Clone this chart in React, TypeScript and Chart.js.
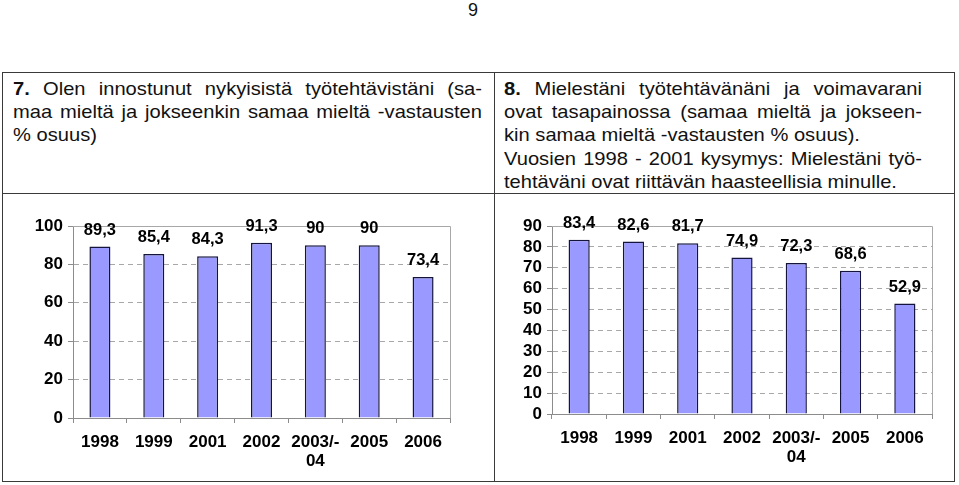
import React, { useEffect, useRef } from 'react';
import { Chart, registerables } from 'chart.js';

Chart.register(...registerables);

// ---- data ----
const categories: (string | string[])[] = ['1998', '1999', '2001', '2002', ['2003/-', '04'], '2005', '2006'];
const innostusValues = [89.3, 85.4, 84.3, 91.3, 90, 90, 73.4];
const tasapainoValues = [83.4, 82.6, 81.7, 74.9, 72.3, 68.6, 52.9];
const leftAxisMax = 100;
const leftAxisStep = 20;
const rightAxisMax = 90;
const rightAxisStep = 10;
const pageNumber = '9';

const leftHeading: { bold?: string; text: string; justify: boolean }[] = [
  { bold: '7.', text: ' Olen innostunut nykyisistä työtehtävistäni (sa-', justify: true },
  { text: 'maa mieltä ja jokseenkin samaa mieltä -vastausten', justify: true },
  { text: '% osuus)', justify: false },
];
const rightHeading: { bold?: string; text: string; justify: boolean }[] = [
  { bold: '8.', text: ' Mielestäni työtehtävänäni ja voimavarani', justify: true },
  { text: 'ovat tasapainossa (samaa mieltä ja jokseen-', justify: true },
  { text: 'kin samaa mieltä -vastausten % osuus).', justify: false },
  { text: 'Vuosien 1998 - 2001 kysymys: Mielestäni työ-', justify: true },
  { text: 'tehtäväni ovat riittävän haasteellisia minulle.', justify: false },
];

const FONT = '"Liberation Sans", Arial, Helvetica, sans-serif';
const BAR_FILL = '#9999FF';
const BAR_EDGE = '#14143c';
const GRID = '#a8a8a8';
const AXIS = '#8c8c8c';

const fmt = (v: number) => String(v).replace('.', ',');

const decorPlugin = {
  id: 'decor',
  beforeDatasetsDraw(chart: any) {
    const { ctx, chartArea } = chart;
    const { left, top, right, bottom } = chartArea;
    ctx.save();
    ctx.strokeStyle = GRID;
    ctx.lineWidth = 1;
    ctx.beginPath();
    ctx.moveTo(left, Math.round(top) + 0.5);
    ctx.lineTo(Math.round(right) + 0.5, Math.round(top) + 0.5);
    ctx.lineTo(Math.round(right) + 0.5, bottom);
    ctx.stroke();
    ctx.restore();
  },
  afterDatasetsDraw(chart: any) {
    const { ctx } = chart;
    const meta = chart.getDatasetMeta(0);
    const data = chart.data.datasets[0].data as number[];
    ctx.save();
    ctx.fillStyle = '#000';
    ctx.font = `bold 16.5px ${FONT}`;
    ctx.textAlign = 'center';
    ctx.textBaseline = 'middle';
    meta.data.forEach((el: any, i: number) => {
      ctx.fillText(fmt(data[i]), el.x, el.y - 16.5);
    });
    ctx.restore();
  },
};

type BarProps = {
  values: number[];
  max: number;
  step: number;
  width: number;
  height: number;
  yWidth: number;
  xHeight: number;
  padRight: number;
  padTop: number;
  xPad: number;
};

function BarChart(p: BarProps) {
  const ref = useRef<HTMLCanvasElement | null>(null);
  useEffect(() => {
    if (!ref.current) return;
    const tickFont = { family: FONT, weight: 'bold' as const, size: 17, lineHeight: 1.12 };
    const chart = new Chart(ref.current, {
      type: 'bar',
      data: {
        labels: categories as any,
        datasets: [
          {
            data: p.values,
            backgroundColor: BAR_FILL,
            borderColor: BAR_EDGE,
            borderWidth: 1.5,
            barPercentage: 0.39,
            categoryPercentage: 1,
          },
        ],
      },
      options: {
        responsive: false,
        animation: false,
        devicePixelRatio: 1,
        layout: { padding: { left: 0, right: p.padRight, top: p.padTop, bottom: 0 } },
        plugins: { legend: { display: false }, tooltip: { enabled: false } },
        scales: {
          x: {
            offset: true,
            grid: {
              display: true,
              offset: true,
              drawOnChartArea: false,
              drawTicks: true,
              tickLength: 5,
              color: AXIS,
              tickColor: AXIS,
            },
            border: { display: true, color: AXIS, width: 1 },
            ticks: { color: '#000', font: tickFont, padding: p.xPad, maxRotation: 0, autoSkip: false },
            afterFit: (s: any) => {
              s.height = p.xHeight;
            },
          },
          y: {
            min: 0,
            max: p.max,
            grid: {
              drawOnChartArea: true,
              drawTicks: true,
              tickLength: 5,
              color: (c: any) => (c.tick && c.tick.value === 0 ? 'rgba(0,0,0,0)' : GRID),
              tickColor: AXIS,
            },
            border: { display: true, color: AXIS, width: 1, dash: [5, 4] },
            ticks: { stepSize: p.step, color: '#000', font: tickFont, padding: 5, autoSkip: false },
            afterFit: (s: any) => {
              s.width = p.yWidth;
            },
          },
        },
      },
      plugins: [decorPlugin],
    });
    return () => chart.destroy();
  }, []);
  return <canvas ref={ref} width={p.width} height={p.height} style={{ display: 'block' }} />;
}

function Heading({ lines, left, top, width }: { lines: typeof leftHeading; left: number; top: number; width: number }) {
  const scale = 1.06;
  return (
    <div
      style={{
        position: 'absolute',
        left,
        top,
        width: width / scale,
        transform: `scaleX(${scale})`,
        transformOrigin: '0 0',
        fontFamily: FONT,
        fontSize: 19,
        lineHeight: '23.3px',
        color: '#111',
      }}
    >
      {lines.map((l, i) => (
        <div
          key={i}
          style={{
            height: 23.3,
            textAlign: l.justify ? 'justify' : 'left',
            textAlignLast: l.justify ? 'justify' : 'left',
          }}
        >
          {l.bold ? <b>{l.bold}</b> : null}
          {l.text}
        </div>
      ))}
    </div>
  );
}

export default function App() {
  const line = '#3a3a3a';
  return (
    <div style={{ position: 'relative', width: 959, height: 485, background: '#fff' }}>
      <div
        style={{
          position: 'fixed',
          left: 0,
          top: 0,
          width: 959,
          height: 485,
          background: '#fff',
          overflow: 'hidden',
        }}
      >
        <div
          style={{
            position: 'absolute',
            left: 463,
            top: 0,
            width: 20,
            textAlign: 'center',
            fontFamily: FONT,
            fontSize: 18,
            color: '#111',
          }}
        >
          {pageNumber}
        </div>
        {/* table frame */}
        <div style={{ position: 'absolute', left: 2, top: 72, width: 953, height: 410, border: `1px solid ${line}`, boxSizing: 'border-box' }} />
        <div style={{ position: 'absolute', left: 494, top: 72, width: 1, height: 410, background: line }} />
        <div style={{ position: 'absolute', left: 2, top: 193, width: 953, height: 1, background: line }} />

        <Heading lines={leftHeading} left={13} top={76.75} width={469} />
        <Heading lines={rightHeading} left={504} top={76.75} width={418} />

        <div style={{ position: 'absolute', left: 4, top: 195 }}>
          <BarChart
            values={innostusValues}
            max={leftAxisMax}
            step={leftAxisStep}
            width={488}
            height={285}
            yWidth={69}
            xHeight={62}
            padRight={42}
            padTop={31}
            xPad={10}
          />
        </div>
        <div style={{ position: 'absolute', left: 495, top: 195 }}>
          <BarChart
            values={tasapainoValues}
            max={rightAxisMax}
            step={rightAxisStep}
            width={459}
            height={285}
            yWidth={57}
            xHeight={66}
            padRight={22}
            padTop={31}
            xPad={9.5}
          />
        </div>
      </div>
    </div>
  );
}
